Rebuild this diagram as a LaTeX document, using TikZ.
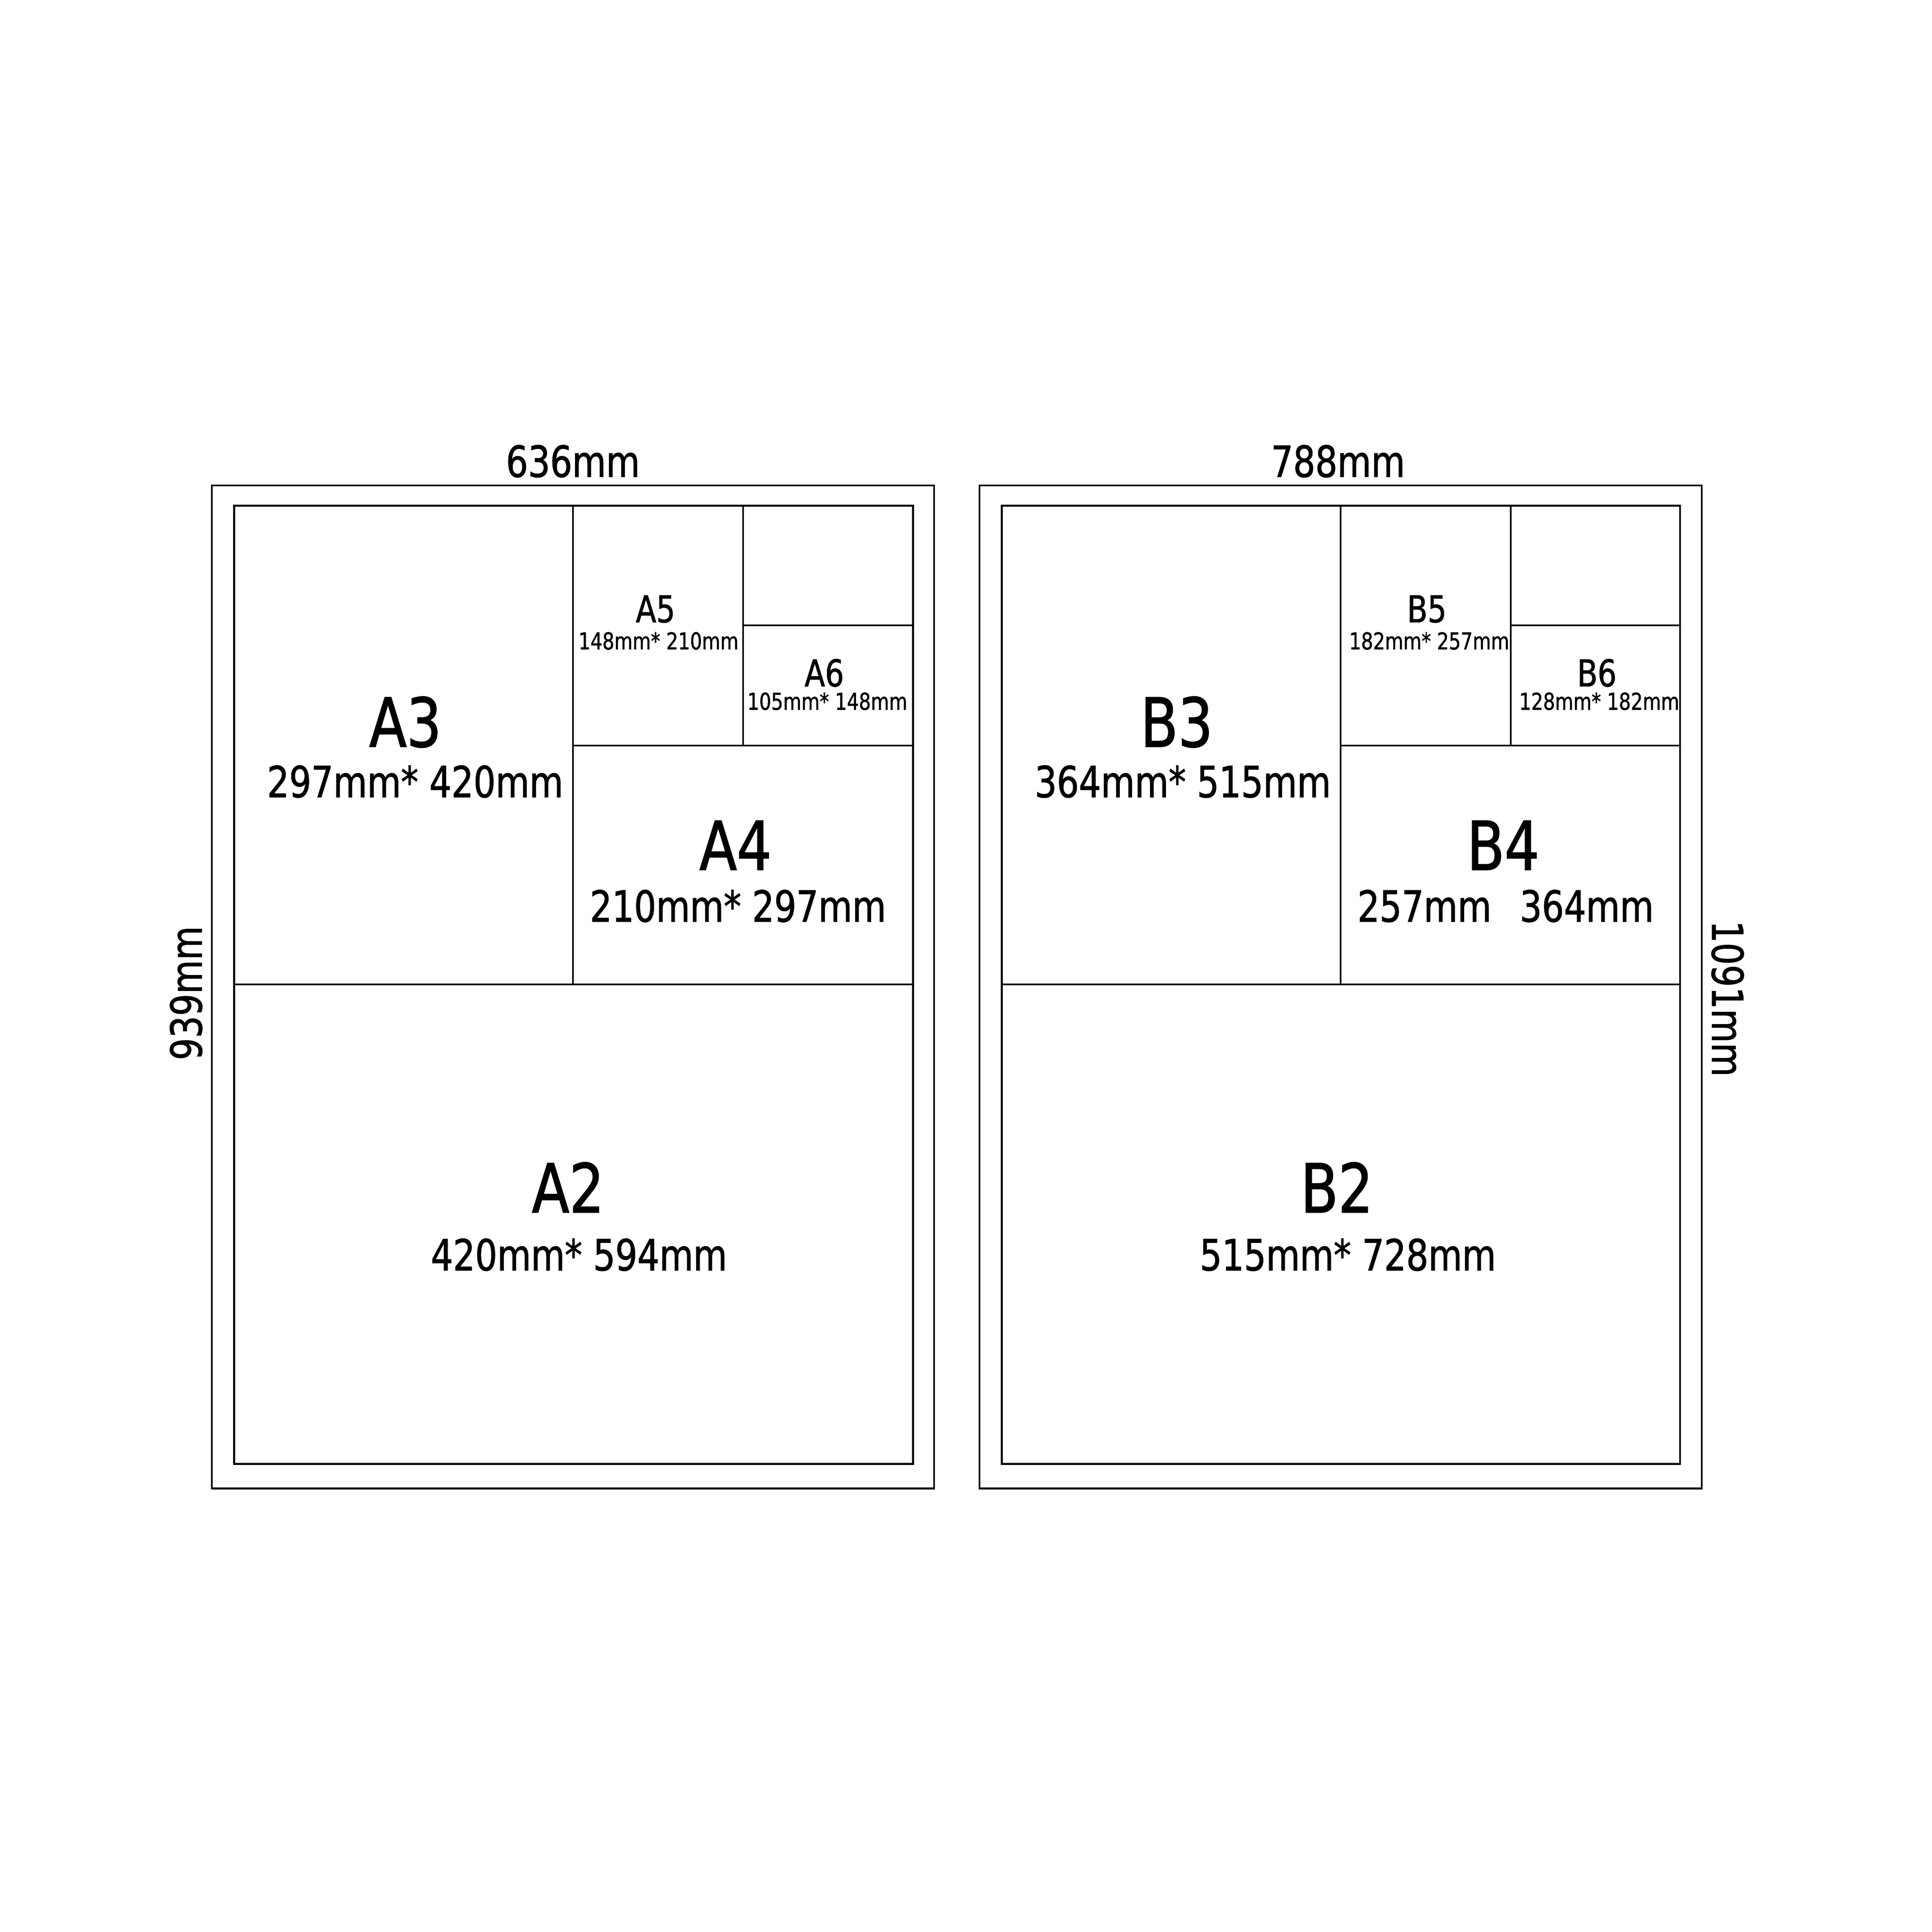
\documentclass[tikz,border=0pt]{standalone}
\usepackage{fontspec}
\newfontfamily\dinfont[FakeStretch=0.9, FakeBold=1.3]{DejaVu Sans Condensed}

\begin{document}
\begin{tikzpicture}[x=0.01cm, y=-0.01cm, every node/.style={inner sep=0pt, anchor=base},
    frame/.style={draw, line width=0.4pt},
    sheet/.style={draw, line width=0.45pt},
    cut/.style={draw, line width=0.38pt},
    bigname/.style={font=\dinfont\fontsize{15.6}{17}\selectfont},
    bigsize/.style={font=\dinfont\fontsize{9.9}{11}\selectfont},
    smallname/.style={font=\dinfont\fontsize{8.5}{10}\selectfont},
    smallsize/.style={font=\dinfont\fontsize{5.35}{6}\selectfont}]
    % Canvas
    \useasboundingbox (0,0) rectangle (1568,1568);

    % A series sheets
    \draw[frame] (172,394) rectangle (758,1208);
    \draw[sheet] (190,410.5) rectangle (741,1188);
    \draw[cut] (190,799) -- (741,799);
    \draw[cut] (465,410.5) -- (465,799);
    \draw[cut] (465,605) -- (741,605);
    \draw[cut] (603,410.5) -- (603,605);
    \draw[cut] (603,507.5) -- (741,507.5);

    % B series sheets
    \draw[frame] (795,394) rectangle (1381,1208);
    \draw[sheet] (813,410.5) rectangle (1363.5,1188);
    \draw[cut] (813,799) -- (1363.5,799);
    \draw[cut] (1088,410.5) -- (1088,799);
    \draw[cut] (1088,605) -- (1363.5,605);
    \draw[cut] (1226,410.5) -- (1226,605);
    \draw[cut] (1226,507.5) -- (1363.5,507.5);

    % A series labels
    \node[bigsize] (widthA) at (465,387) {636mm};
    \node[bigsize, rotate=90] (heightA) at (163.7,806) {939mm};
    \node[bigname] (a3) at (329,606) {A3};
    \node[bigsize] (a3size) at (337,647) {297mm* 420mm};
    \node[bigname] (a4) at (597,706) {A4};
    \node[bigsize] (a4size) at (599,748) {210mm* 297mm};
    \node[smallname] (a5) at (532,505) {A5};
    \node[smallsize] (a5size) at (534.5,527) {148mm* 210mm};
    \node[smallname] (a6) at (669,557) {A6};
    \node[smallsize] (a6size) at (671.5,576) {105mm* 148mm};
    \node[bigname] (a2) at (461,984) {A2};
    \node[bigsize] (a2size) at (470,1031) {420mm* 594mm};

    % B series labels
    \node[bigsize] (widthB) at (1086,387) {788mm};
    \node[bigsize, rotate=-90] (heightB) at (1389.5,810.5) {1091mm};
    \node[bigname] (b3) at (955,606) {B3};
    \node[bigsize] (b3size) at (960,647) {364mm* 515mm};
    \node[bigname] (b4) at (1220,706) {B4};
    \node[bigsize] (b4size) at (1222,748) {257mm\hphantom{*} 364mm};
    \node[smallname] (b5) at (1158,505) {B5};
    \node[smallsize] (b5size) at (1160,527) {182mm* 257mm};
    \node[smallname] (b6) at (1296,557) {B6};
    \node[smallsize] (b6size) at (1298,576) {128mm* 182mm};
    \node[bigname] (b2) at (1085,984) {B2};
    \node[bigsize] (b2size) at (1094,1031) {515mm* 728mm};
\end{tikzpicture}
\end{document}
